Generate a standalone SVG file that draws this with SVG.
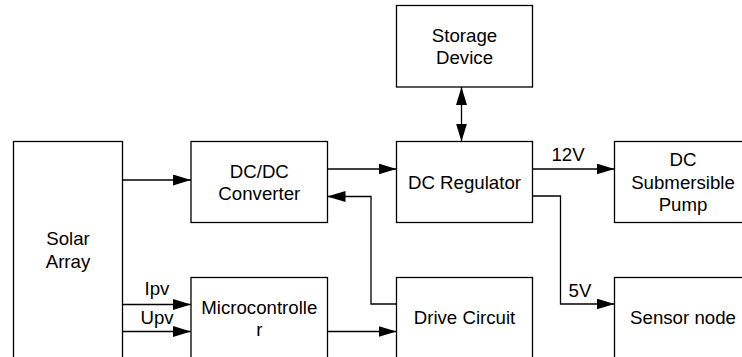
<svg xmlns="http://www.w3.org/2000/svg" width="742" height="357" viewBox="0 0 742 357">
<style>
.box{fill:#fff;stroke:#000;stroke-width:1.3}
.t{font-family:"Liberation Sans",Arial,sans-serif;font-size:18.67px;fill:#000;text-anchor:middle}
.c{fill:none;stroke:#000;stroke-width:1.3}
</style>
<defs>
<marker id="ah" markerUnits="userSpaceOnUse" markerWidth="18" markerHeight="11" refX="18" refY="5.5" orient="auto-start-reverse" viewBox="0 0 18 11">
<path d="M0,0 L18,5.5 L0,11 z" fill="#000"/>
</marker>
</defs>
<rect width="742" height="357" fill="#fff"/>
<g id="connectors">
<path class="c" d="M122.5 180 H191" marker-end="url(#ah)"/>
<path class="c" d="M327.5 169 H396.5" marker-end="url(#ah)"/>
<path class="c" d="M396.5 304 H371 V196.5 H327.5" marker-end="url(#ah)"/>
<path class="c" d="M122.5 304.5 H191" marker-end="url(#ah)"/>
<path class="c" d="M122.5 331.5 H191" marker-end="url(#ah)"/>
<path class="c" d="M327.5 331.5 H396.5" marker-end="url(#ah)"/>
<path class="c" d="M461.5 87 V141.5" marker-start="url(#ah)" marker-end="url(#ah)"/>
<path class="c" d="M532.5 169 H614.5" marker-end="url(#ah)"/>
<path class="c" d="M532.5 196 H560.5 V304 H614.5" marker-end="url(#ah)"/>
<text class="t" x="157" y="295">Ipv</text>
<text class="t" x="157" y="324">Upv</text>
<text class="t" x="568" y="161">12V</text>
<text class="t" x="580" y="297">5V</text>
</g>
<g id="storage">
<rect class="box" x="396.5" y="5.5" width="136" height="81.5"/>
<text class="t" x="464.5" y="41.5">Storage</text>
<text class="t" x="464.5" y="64">Device</text>
</g>
<g id="solar">
<rect class="box" x="13.5" y="141.5" width="109" height="240"/>
<text class="t" x="68" y="245">Solar</text>
<text class="t" x="68" y="267.5">Array</text>
</g>
<g id="dcdc">
<rect class="box" x="191" y="141.5" width="136.5" height="81"/>
<text class="t" x="259.3" y="177.5">DC/DC</text>
<text class="t" x="259.3" y="200">Converter</text>
</g>
<g id="regulator">
<rect class="box" x="396.5" y="141.5" width="136" height="81"/>
<text class="t" x="464.5" y="188.5">DC Regulator</text>
</g>
<g id="pump">
<rect class="box" x="614.5" y="141.5" width="137" height="81"/>
<text class="t" x="683" y="166.3">DC</text>
<text class="t" x="683" y="188.7">Submersible</text>
<text class="t" x="683" y="211.1">Pump</text>
</g>
<g id="micro">
<rect class="box" x="191" y="277.5" width="136.5" height="81"/>
<text class="t" x="259.3" y="314">Microcontrolle</text>
<text class="t" x="259.3" y="336.3">r</text>
</g>
<g id="drive">
<rect class="box" x="396.5" y="277.5" width="136" height="81"/>
<text class="t" x="464.5" y="324">Drive Circuit</text>
</g>
<g id="sensor">
<rect class="box" x="614.5" y="277.5" width="137" height="81"/>
<text class="t" x="683" y="324">Sensor node</text>
</g>
</svg>
